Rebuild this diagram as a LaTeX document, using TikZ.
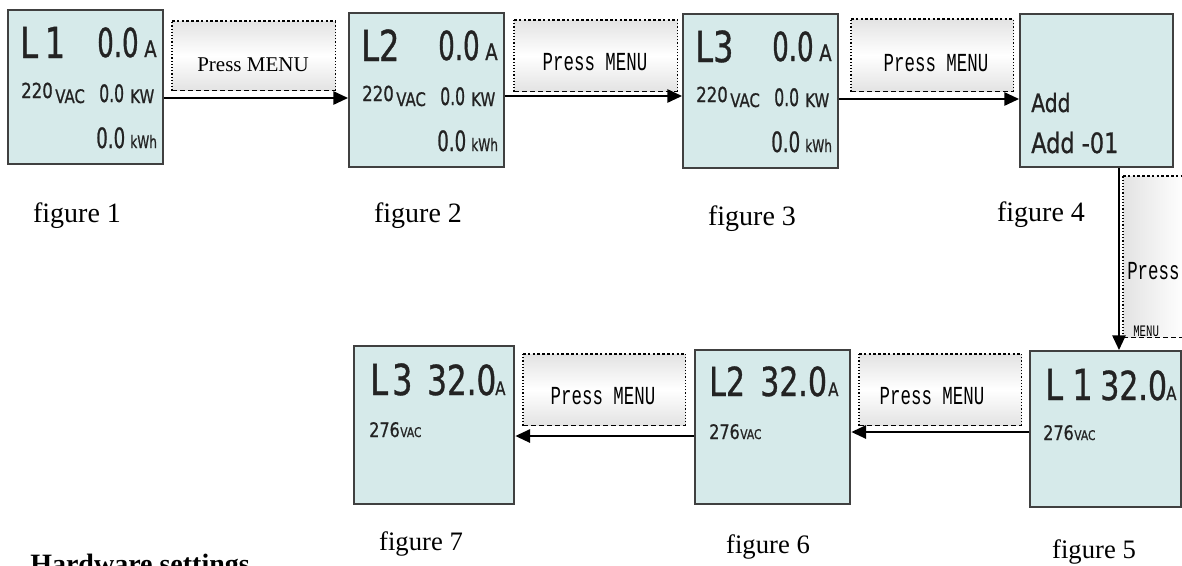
\documentclass[tikz,border=0pt]{standalone}
\usepackage{fontspec}
\setmainfont{Liberation Serif}
\newfontfamily\lcda[FakeStretch=0.65,FakeBold=0.8]{DejaVu Sans}
\newfontfamily\lcdb[FakeStretch=0.8,FakeBold=0.8]{DejaVu Sans}
\newfontfamily\lcdc[FakeStretch=0.7,FakeBold=0.8]{DejaVu Sans}
\newfontfamily\lcdL[FakeStretch=0.75,FakeBold=0.8]{DejaVu Sans}
\newfontfamily\pmfont[FakeStretch=0.67]{Liberation Mono}
\usetikzlibrary{arrows.meta}
\definecolor{lcdfill}{RGB}{214,234,234}
\definecolor{lcdborder}{RGB}{64,64,64}
\definecolor{lcdtext}{RGB}{35,35,35}
\newcommand\fsz[1]{\fontsize{#1pt}{#1pt}\selectfont}
\tikzset{
 lcdbox/.style={draw=lcdborder, line width=1.8pt, fill=lcdfill, inner sep=0pt, anchor=north west},
 lt/.style={inner sep=0pt, anchor=base west, text=lcdtext},
 pmbox/.style={inner sep=0pt, top color=gray!22, bottom color=gray!22, middle color=white, anchor=north west},
 pmvbox/.style={inner sep=0pt, left color=gray!22, right color=white, anchor=north west},
 pmtext/.style={inner sep=0pt, anchor=base},
 captext/.style={inner sep=0pt, anchor=base},
 arr/.style={line width=1.3pt, -{Triangle[length=11pt,width=10pt]}},
 dotb/.style={line width=0.8pt, dash pattern=on 0.8pt off 1.6pt},
 dasht/.style={line width=0.8pt, dash pattern=on 2pt off 1.6pt},
 dashb/.style={line width=0.8pt, dash pattern=on 3.5pt off 2.5pt},
}
\newcommand\pmborder[1]{%
 \draw[dotb] (#1.south west) -- (#1.north west);
 \draw[dotb] (#1.south east) -- (#1.north east);
 \draw[dasht] (#1.north west) -- (#1.north east);
 \draw[dashb] (#1.south west) -- (#1.south east);}
\newcommand\threescr[4]{%
 \node[lcdbox, minimum width=116.25pt, minimum height=115.5pt] (#1) at (#2,#3) {};
 \begin{scope}[shift={(#2,#3)}]
 \node[lt, font={\lcdL\fsz{32}}] (#1-l) at (13,49) {#4};
 \node[lt, font={\lcda\fsz{30}}] (#1-a) at (90,48) {0.0};
 \node[lt, font={\lcdb\fsz{17}}] (#1-au) at (137,48) {A};
 \node[lt, font={\lcdb\fsz{15.5}}] (#1-v) at (14,89) {220};
 \node[lt, font={\lcdb\fsz{14}}] (#1-vu) at (48,94) {VAC};
 \node[lt, font={\lcda\fsz{18}}] (#1-p) at (92,93) {0.0};
 \node[lt, font={\lcdb\fsz{14}}] (#1-pu) at (123,94) {KW};
 \node[lt, font={\lcda\fsz{21}}] (#1-e) at (89,139) {0.0};
 \node[lt, font={\lcdc\fsz{13}}] (#1-eu) at (123,139) {kWh};
 \end{scope}}
\begin{document}
\begin{tikzpicture}[x=0.75pt,y=-0.75pt]
\useasboundingbox (0,0) rectangle (1182,565);

% top row screens
\threescr{f1}{7}{9}{L\hspace{5pt}1}
\threescr{f2}{348}{12}{L2}
\threescr{f3}{682}{13}{L3}
\node[lcdbox, minimum width=114.75pt, minimum height=114.75pt] (f4) at (1019,13) {};
\node[lt, font={\lcdb\fsz{19}}] (f4a) at (1031,112) {Add};
\node[lt, font={\lcdb\fsz{21}}] (f4b) at (1031,153) {Add -01};

% bottom row screens
\node[lcdbox, minimum width=113.25pt, minimum height=117pt] (f5) at (1029,350) {};
\node[lt, font={\lcdL\fsz{32}}] (f5l) at (1045,400) {L\hspace{7pt}1};
\node[lt, font={\lcdL\fsz{30}}] (f5n) at (1100,400) {32.0};
\node[lt, font={\lcdb\fsz{14}}] (f5a) at (1166,400) {A};
\node[lt, font={\lcdb\fsz{15}}] (f5v) at (1043,440) {276};
\node[lt, font={\lcdb\fsz{10}}] (f5u) at (1074,440) {VAC};

\node[lcdbox, minimum width=116.25pt, minimum height=115.5pt] (f6) at (694,349) {};
\node[lt, font={\lcdL\fsz{30}}] (f6l) at (709,396) {L2};
\node[lt, font={\lcdL\fsz{30}}] (f6n) at (760,396) {32.0};
\node[lt, font={\lcdb\fsz{14}}] (f6a) at (828,396) {A};
\node[lt, font={\lcdb\fsz{15}}] (f6v) at (709,439) {276};
\node[lt, font={\lcdb\fsz{10}}] (f6u) at (740,439) {VAC};

\node[lcdbox, minimum width=120pt, minimum height=118.5pt] (f7) at (353,345) {};
\node[lt, font={\lcdL\fsz{32}}] (f7l) at (370,395) {L\hspace{3pt}3};
\node[lt, font={\lcdL\fsz{31}}] (f7n) at (427,395) {32.0};
\node[lt, font={\lcdb\fsz{14}}] (f7a) at (495,395) {A};
\node[lt, font={\lcdb\fsz{15}}] (f7v) at (369,437) {276};
\node[lt, font={\lcdb\fsz{10}}] (f7u) at (400,437) {VAC};

% Press MENU boxes
\node[pmbox, minimum width=122.25pt, minimum height=51.75pt] (pm1) at (172,21) {};
\pmborder{pm1}
\node[pmtext, font=\fsz{15.75}] (pm1t) at (253,71) {Press MENU};
\node[pmbox, minimum width=122.25pt, minimum height=53.25pt] (pm2) at (514,20) {};
\pmborder{pm2}
\node[pmtext, font={\pmfont\fsz{19.5}}] (pm2t) at (595,70) {Press MENU};
\node[pmbox, minimum width=121.5pt, minimum height=54pt] (pm3) at (851,19) {};
\pmborder{pm3}
\node[pmtext, font={\pmfont\fsz{19.5}}] (pm3t) at (936,71) {Press MENU};
\node[pmbox, minimum width=121.5pt, minimum height=53.25pt] (pm5) at (523,354) {};
\pmborder{pm5}
\node[pmtext, font={\pmfont\fsz{19.5}}] (pm5t) at (603,404) {Press MENU};
\node[pmbox, minimum width=121.5pt, minimum height=53.25pt] (pm6) at (859,354) {};
\pmborder{pm6}
\node[pmtext, font={\pmfont\fsz{19.5}}] (pm6t) at (932,404) {Press MENU};
\node[pmvbox, minimum width=46.5pt, minimum height=120.75pt] (pm4) at (1123,176) {};
\draw[dotb] (pm4.south west) -- (pm4.north west);
\draw[dasht] (pm4.north west) -- (pm4.north east);
\draw[dashb] (pm4.south west) -- (pm4.south east);
\node[lt, text=black, font={\pmfont\fsz{19.5}}] (pm4a) at (1127,279) {Press};
\node[lt, text=black, font={\pmfont\fsz{12}}] (pm4b) at (1133,336) {MENU};

% arrows
\draw[arr] (f1.east |- 0,98) -- (f2.west |- 0,98);
\draw[arr] (f2.east |- 0,96) -- (f3.west |- 0,96);
\draw[arr] (f3.east |- 0,99) -- (f4.west |- 0,99);
\draw[arr] (f4.south -| 1119,0) -- (f5.north -| 1119,0);
\draw[arr] (f5.west |- 0,432) -- (f6.east |- 0,432);
\draw[arr] (f6.west |- 0,436) -- (f7.east |- 0,436);

% captions
\node[captext, font=\fsz{21}] (c1) at (77,222) {figure 1};
\node[captext, font=\fsz{21}] (c2) at (418,222) {figure 2};
\node[captext, font=\fsz{21}] (c3) at (752,225) {figure 3};
\node[captext, font=\fsz{21}] (c4) at (1041,221) {figure 4};
\node[captext, font=\fsz{20}] (c7) at (421,550) {figure 7};
\node[captext, font=\fsz{20}] (c6) at (768,553) {figure 6};
\node[captext, font=\fsz{20}] (c5) at (1094,558) {figure 5};
\node[inner sep=0pt, anchor=base west, font={\bfseries\fsz{21}}] (hw) at (30,573) {Hardware settings};
\end{tikzpicture}
\end{document}
